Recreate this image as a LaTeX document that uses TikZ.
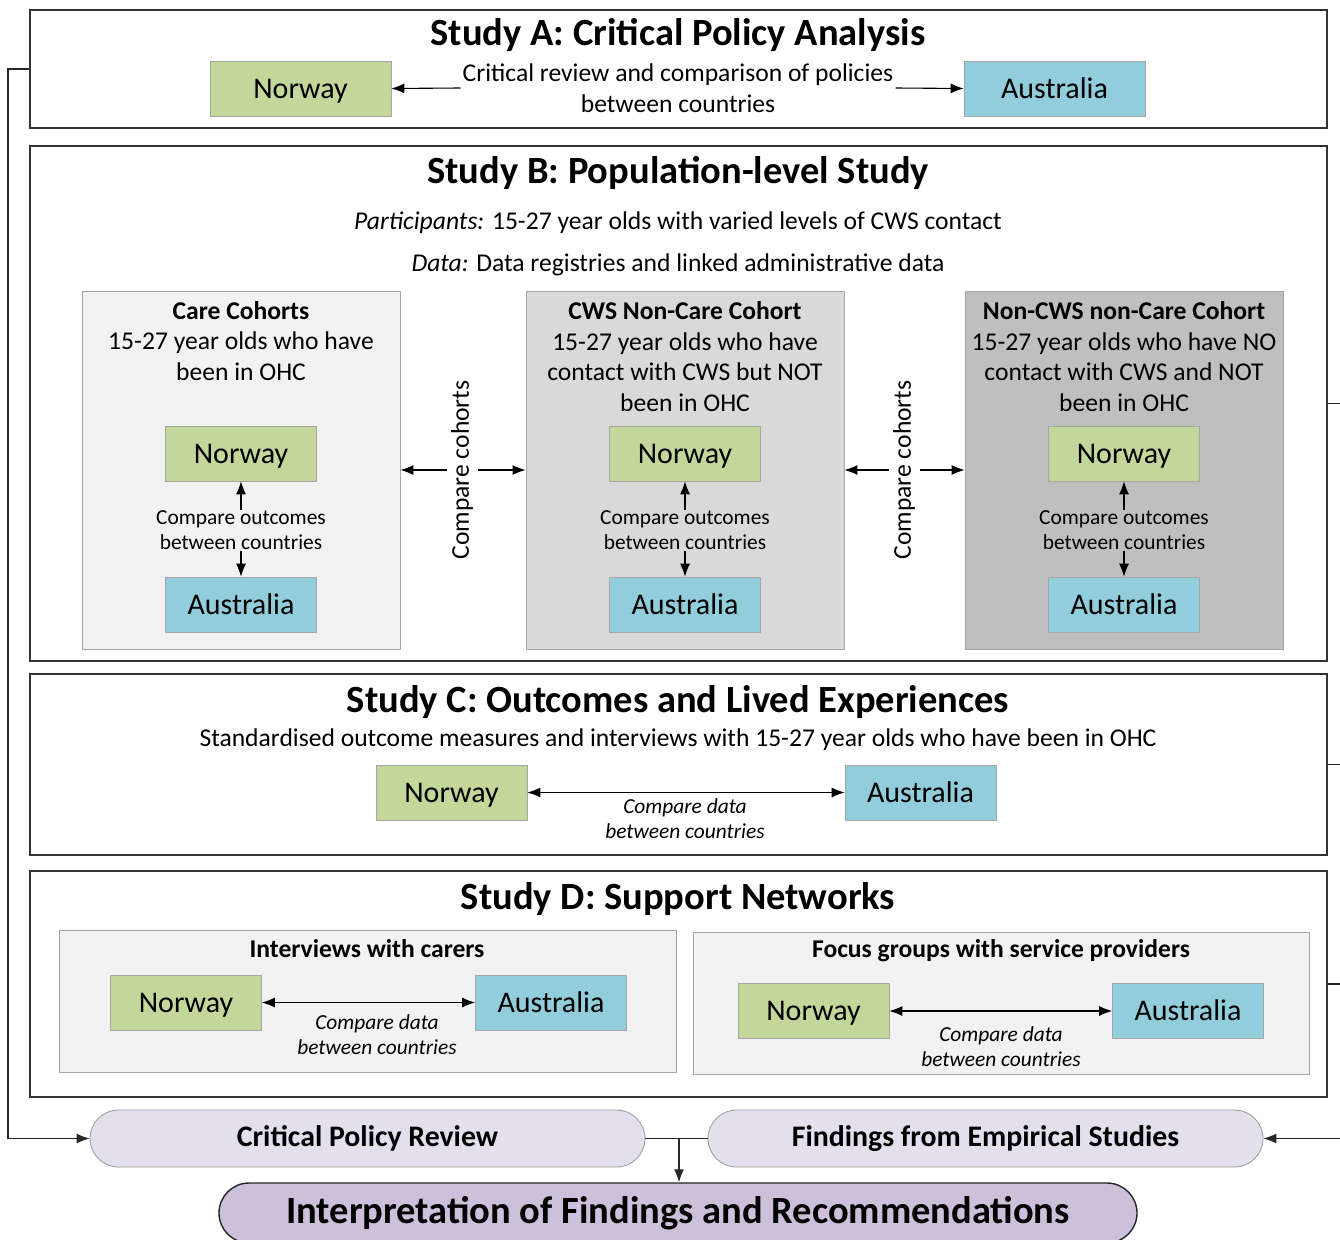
\documentclass[tikz,border=0pt]{standalone}
\usepackage{fontspec}
\setmainfont{Carlito}
\usetikzlibrary{arrows.meta,shapes.misc,calc}
\definecolor{norg}{HTML}{C4D79B}
\definecolor{ausb}{HTML}{92CDDC}
\definecolor{cone}{HTML}{F2F2F2}
\definecolor{ctwo}{HTML}{D9D9D9}
\definecolor{cthree}{HTML}{BFBFBF}
\definecolor{lavl}{HTML}{E4DFEC}
\definecolor{lavd}{HTML}{CCC0DA}
\newcommand\ftitle{\fontsize{38.5}{42}\selectfont\bfseries}
\newcommand\finterp{\fontsize{38.5}{42}\selectfont\bfseries}
\newcommand\fcpr{\fontsize{29.8}{33}\selectfont\bfseries}
\newcommand\fnorway{\fontsize{30}{33}\selectfont}
\newcommand\fbody{\fontsize{25.6}{30.5}\selectfont}
\newcommand\fsmall{\fontsize{21.4}{25}\selectfont}
\begin{document}
\begin{tikzpicture}[x=1pt,y=-1pt,
  study/.style={draw=black!80, line width=1.6pt, fill=white, inner sep=0pt, minimum width=1297pt},
  cty/.style={draw=black!35, line width=0.7pt, inner sep=0pt, minimum width=151pt, minimum height=55pt, font=\fnorway, text height=19.3pt, text depth=0pt},
  nor/.style={cty, fill=norg},
  aus/.style={cty, fill=ausb},
  cohort/.style={draw=black!35, line width=0.8pt, inner sep=0pt, minimum width=318pt, minimum height=358pt},
  subbox/.style={draw=black!35, line width=0.8pt, fill=cone, inner sep=0pt, minimum height=142pt},
  pill/.style={rounded rectangle, draw=black!40, line width=0.8pt, fill=lavl, inner sep=0pt, minimum height=57pt, minimum width=555pt, font=\fcpr},
  arr/.style={-{Latex[length=13pt,width=10pt]}, line width=1.1pt},
  dbl/.style={{Latex[length=13pt,width=10pt]}-{Latex[length=13pt,width=10pt]}, line width=1.1pt},
  conn/.style={line width=1.2pt, black!85},
  ttl/.style={font=\ftitle, inner sep=0pt},
  txt/.style={font=\fbody, inner sep=0pt, align=center},
  sml/.style={font=\fsmall, inner sep=1pt, align=center}
]
\useasboundingbox (0,0) rectangle (1340,1239);

% ---------- Study A ----------
\node[study, minimum height=118pt] (stA) at (678.5,69) {};
\node[ttl] (tA) at (678,35) {Study A: Critical Policy Analysis};
\node[nor, minimum width=181pt] (norA) at (300.5,88.5) {Norway};
\node[aus, minimum width=181pt] (ausA) at (1054.5,88.5) {Australia};
\node[txt, inner sep=2pt] (pA) at (678,88) {Critical review and comparison of policies\\between countries};
\draw[arr] (pA.west) -- (norA.east);
\draw[arr] (pA.east) -- (ausA.west);

% ---------- Study B ----------
\node[study, minimum height=515pt] (stB) at (678.5,403.5) {};
\node[ttl] (tB) at (678,173) {Study B: Population-level Study};
\node[txt] (partB) at (678,223) {\textit{Participants:} 15-27 year olds with varied levels of CWS contact};
\node[txt] (dataB) at (678,265) {\textit{Data:} Data registries and linked administrative data};

\node[cohort, fill=cone] (care1) at (241,470) {};
\node[cohort, fill=ctwo] (care2) at (685,470) {};
\node[cohort, fill=cthree] (care3) at (1124,470) {};

\node[txt] (h1) at (241,341) {\textbf{Care Cohorts}\\15-27 year olds who have\\been in OHC};
\node[txt] (h2) at (685,356.5) {\textbf{CWS Non-Care Cohort}\\15-27 year olds who have\\contact with CWS but NOT\\been in OHC};
\node[txt] (h3) at (1124,356.5) {\textbf{Non-CWS non-Care Cohort}\\15-27 year olds who have NO\\contact with CWS and NOT\\been in OHC};

\node[nor] (nb1) at (241,453.5) {Norway};
\node[aus] (ab1) at (241,604.5) {Australia};
\node[nor] (nb2) at (685,453.5) {Norway};
\node[aus] (ab2) at (685,604.5) {Australia};
\node[nor] (nb3) at (1124,453.5) {Norway};
\node[aus] (ab3) at (1124,604.5) {Australia};

\node[sml] (co1) at (241,530.5) {Compare outcomes\\between countries};
\node[sml] (co2) at (685,530.5) {Compare outcomes\\between countries};
\node[sml] (co3) at (1124,530.5) {Compare outcomes\\between countries};
\foreach \i in {1,2,3}{
  \draw[arr] (co\i.north) -- (nb\i.south);
  \draw[arr] (co\i.south) -- (ab\i.north);
}

\node[txt, rotate=90] (cc1) at (462,470) {Compare cohorts};
\node[txt, rotate=90] (cc2) at (904,470) {Compare cohorts};
\coordinate (cc1l) at (447,470);
\coordinate (cc1r) at (478,470);
\coordinate (cc2l) at (889,470);
\coordinate (cc2r) at (920,470);
\draw[arr] (cc1l) -- (care1.east |- cc1l);
\draw[arr] (cc1r) -- (care2.west |- cc1r);
\draw[arr] (cc2l) -- (care2.east |- cc2l);
\draw[arr] (cc2r) -- (care3.west |- cc2r);

% ---------- Study C ----------
\node[study, minimum height=181pt] (stC) at (678.5,764.5) {};
\node[ttl] (tC) at (678,702) {Study C: Outcomes and Lived Experiences};
\node[txt] (sC) at (678,740) {Standardised outcome measures and interviews with 15-27 year olds who have been in OHC};
\node[nor] (norC) at (451.5,792.5) {Norway};
\node[aus] (ausC) at (920.5,792.5) {Australia};
\draw[dbl] (norC.east) -- (ausC.west);
\node[sml, font=\fsmall\itshape] (dC) at (685,818.5) {Compare data\\between countries};

% ---------- Study D ----------
\node[study, minimum height=226pt] (stD) at (678.5,984) {};
\node[ttl] (tD) at (678,899) {Study D: Support Networks};
\node[subbox, minimum width=617pt] (sub1) at (367.5,1001) {};
\node[subbox, minimum width=616pt] (sub2) at (1001,1003) {};
\node[txt, font=\fbody\bfseries] (st1) at (367,949) {Interviews with carers};
\node[txt, font=\fbody\bfseries] (st2) at (1001,951) {Focus groups with service providers};
\node[nor] (norD1) at (186,1002.5) {Norway};
\node[aus] (ausD1) at (551,1002.5) {Australia};
\node[nor] (norD2) at (813.5,1011) {Norway};
\node[aus] (ausD2) at (1188,1011) {Australia};
\draw[dbl] (norD1.east) -- (ausD1.west);
\draw[dbl] (norD2.east) -- (ausD2.west);
\node[sml, font=\fsmall\itshape] (dD1) at (377,1034.5) {Compare data\\between countries};
\node[sml, font=\fsmall\itshape] (dD2) at (1001,1046.5) {Compare data\\between countries};

% ---------- Bottom ----------
\node[pill] (cpr) at (367.5,1138.5) {Critical Policy Review};
\node[pill] (fes) at (985.5,1138.5) {Findings from Empirical Studies};
\node[rounded rectangle, draw=black!85, line width=1.4pt, fill=lavd, inner sep=0pt, minimum width=918pt, minimum height=60pt, font=\finterp] (interp) at (678,1213) {Interpretation of Findings and Recommendations};

\coordinate (lft) at (8,1138.5);
\coordinate (rgt) at (1352,1138.5);
\coordinate (jn) at (679,1138.5);
\draw[conn] (stA.west) -| (lft);
\draw[conn, arr] (lft) -- (cpr.west);
\draw[conn] (stB.east) -| (rgt);
\draw[conn] (stC.east) -- (stC.east -| rgt);
\draw[conn] (stD.east) -- (stD.east -| rgt);
\draw[conn, arr] (rgt) -- (fes.east);
\draw[conn] (cpr.east) -- (fes.west);
\draw[conn, arr] (jn) -- (jn |- interp.north);
\end{tikzpicture}
\end{document}
